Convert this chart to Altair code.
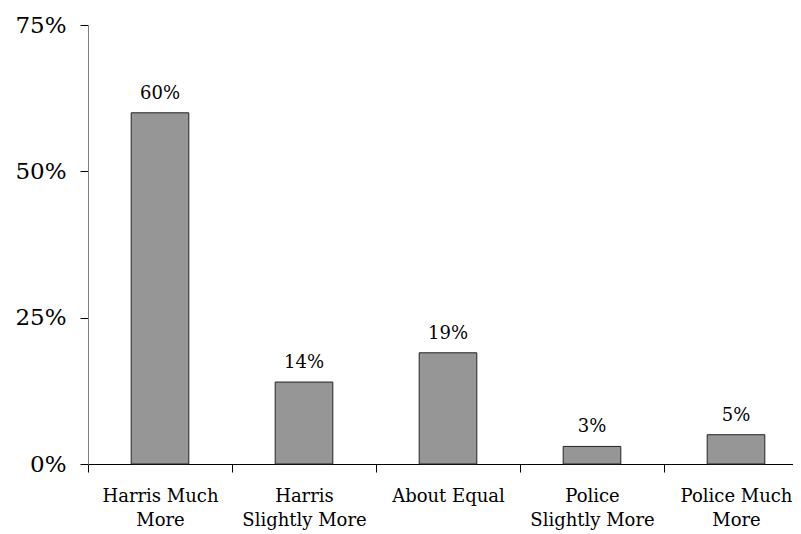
import altair as alt
import pandas as pd

categories = ["Harris Much|More", "Harris|Slightly More", "About Equal",
              "Police|Slightly More", "Police Much|More"]
values = [60, 14, 19, 3, 5]
y_ticks = [0, 25, 50, 75]

df = pd.DataFrame({"cat": categories, "val": values})
df["lbl"] = df["val"].astype(str) + "%"

FONT = "DejaVu Serif"

x = alt.X("cat:N", sort=None, title=None,
          scale=alt.Scale(range=[0, 720], paddingInner=0, paddingOuter=0),
          axis=alt.Axis(labelAngle=0, labelExpr="split(datum.label, '|')",
                        labelFont=FONT, labelFontSize=18, labelColor="#000",
                        labelLineHeight=24, labelPadding=15, labelBaseline="top",
                        domainColor="#000", tickColor="#000", tickSize=8,
                        tickBand="extent", labelLimit=300, grid=False))
y = alt.Y("val:Q", title=None,
          scale=alt.Scale(domain=[0, 75], nice=False),
          axis=alt.Axis(values=y_ticks, labelExpr="datum.value + '%'",
                        labelFont=FONT, labelFontSize=23, labelColor="#000",
                        labelPadding=14, grid=False, domainColor="#808080",
                        tickColor="#000", tickSize=8))

base = alt.Chart(df)
bars = base.mark_bar(color="#969696", stroke="#222", strokeWidth=1,
                     width=alt.RelativeBandSize(0.4)).encode(x=x, y=y)
text = base.mark_text(font=FONT, fontSize=18, baseline="bottom", dy=-10, color="#000").encode(
    x=x, y=y, text="lbl:N")

chart = (bars + text).properties(
    width=705, height=439,
    padding={"left": 80, "top": 17, "right": 0, "bottom": 70},
    autosize=alt.AutoSizeParams(type="none"),
    view=alt.ViewBackground(stroke="transparent", strokeOpacity=0, strokeWidth=0),
).configure_view(stroke="transparent", strokeOpacity=0, strokeWidth=0).configure(background="white")

chart.save("out.html", embed_options={"renderer": "svg", "actions": False})
